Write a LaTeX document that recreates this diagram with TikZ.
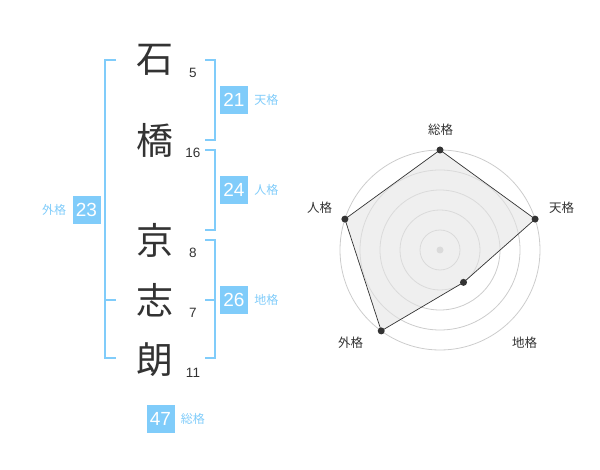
\documentclass[tikz,border=0pt]{standalone}
\usepackage{fontspec}
\setmainfont{Liberation Sans}
\newfontfamily\cjk{Noto Sans CJK JP}
\usetikzlibrary{positioning}
\pgfdeclarelayer{background}
\pgfsetlayers{background,main}
\definecolor{kakublue}{RGB}{128,204,250}
\definecolor{kakutext}{RGB}{51,51,51}
\definecolor{ringgray}{RGB}{204,204,204}
\definecolor{radarfill}{RGB}{228,228,228}
\tikzstyle{kanji}=[text=kakutext, font=\cjk\fontsize{37}{37}\selectfont, inner sep=0]
\tikzstyle{strokes}=[text=kakutext, font=\fontsize{13.5}{14}\selectfont, inner sep=0]
\tikzstyle{kakubox}=[rectangle, fill=kakublue, text=white, font=\fontsize{19}{19}\selectfont, minimum size=28pt, inner sep=0]
\tikzstyle{kakulabel}=[text=kakublue, font=\cjk\fontsize{12}{12}\selectfont, inner sep=0]
\tikzstyle{bracket}=[draw=kakublue, line width=2pt]
\tikzstyle{ring}=[draw=ringgray, line width=0.8pt]
\tikzstyle{vdot}=[circle, fill=kakutext, minimum size=7pt, inner sep=0]
\tikzstyle{axislabel}=[text=kakutext, font=\cjk\fontsize{12.5}{12.5}\selectfont, inner sep=0]
\newcommand{\kaku}[5]{
  \node[kakubox] (#1) at (#2) {#3};
  \node[kakulabel, #5=6pt of #1] (#1-l) {#4};
}

\begin{document}
\begin{tikzpicture}[x=1pt, y=-1pt]
\useasboundingbox (0,0) rectangle (600,470);

\node[kanji] (c1) at (155,60) {石};
\node[kanji] (c2) at (155,140) {橋};
\node[kanji] (c3) at (155,240) {京};
\node[kanji] (c4) at (155,300) {志};
\node[kanji] (c5) at (155,360) {朗};
\node[strokes] (s1) at (193,72.5) {5};
\node[strokes] (s2) at (193,153) {16};
\node[strokes] (s3) at (193,252.5) {8};
\node[strokes] (s4) at (193,313) {7};
\node[strokes] (s5) at (193,372.5) {11};

\draw[bracket] (116,60) -- (105,60) -- (105,358) -- (116,358);
\draw[bracket] (105,300) -- (116,300);
\draw[bracket] (205,60) -- (215,60) -- (215,140) -- (205,140);
\draw[bracket] (205,150) -- (215,150) -- (215,230) -- (205,230);
\draw[bracket] (205,240) -- (215,240) -- (215,358) -- (205,358);
\draw[bracket] (205,300) -- (215,300);

\kaku{ten}{234,100}{21}{天格}{right}
\kaku{jin}{234,190}{24}{人格}{right}
\kaku{chi}{234,300}{26}{地格}{right}
\kaku{gai}{86.5,210}{23}{外格}{left}
\kaku{sou}{160.5,419}{47}{総格}{right}

% radar chart
\begin{scope}[shift={(440,250)}, y=1pt]
\node[vdot] (r-sou) at (90:100) {};
\node[vdot] (r-ten) at (18:100) {};
\node[vdot] (r-chi) at (-54:40) {};
\node[vdot] (r-gai) at (-126:100) {};
\node[vdot] (r-jin) at (162:100) {};
\node[axislabel] (l-sou) at (0.5,120) {総格};
\node[axislabel] (l-ten) at (121.5,42) {天格};
\node[axislabel] (l-chi) at (84.5,-92.5) {地格};
\node[axislabel] (l-gai) at (-89.5,-92.5) {外格};
\node[axislabel] (l-jin) at (-120.5,42) {人格};
\begin{pgfonlayer}{background}
 \foreach \r in {20,40,...,100}
  \draw[ring] (0,0) circle (\r);
 \fill[ringgray] (0,0) circle (3.5);
 \fill[radarfill, fill opacity=0.6] (r-sou.center) -- (r-ten.center) -- (r-chi.center) -- (r-gai.center) -- (r-jin.center) -- cycle;
 \draw[kakutext, line width=0.7pt] (r-sou.center) -- (r-ten.center) -- (r-chi.center) -- (r-gai.center) -- (r-jin.center) -- cycle;
\end{pgfonlayer}
\end{scope}

\end{tikzpicture}
\end{document}
